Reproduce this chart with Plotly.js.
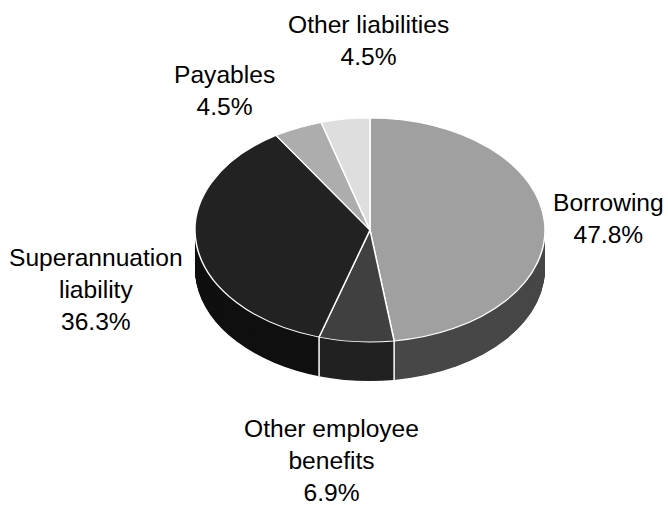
<!DOCTYPE html>
<html>
<head>
<meta charset="utf-8">
<script src="https://cdn.plot.ly/plotly-3.0.1.min.js"></script>
<style>html,body{margin:0;padding:0;background:#fff}#chart{width:668px;height:505px}</style>
</head>
<body>
<div id="chart"></div>
<script>
const labels = ["Borrowing", "Other employee<br>benefits", "Superannuation<br>liability", "Payables", "Other liabilities"];
const values = [47.8, 6.9, 36.3, 4.5, 4.5];
const topColors = ["#a0a0a0", "#404040", "#222222", "#adadad", "#dedede"];
const sideColors = ["#484848", "#222222", "#111111", "#111111", "#111111"];
const labelX = [608, 331, 96, 224, 368];
const labelY = [219, 460, 289, 91, 41];

const W = 668, H = 505, cx = 370, cy = 230, rx = 175, ry = 112, depth = 39;
const squash = ry / rx, preDepth = depth / squash, step = 1;

function pieTrace(offset, colors, lineWidth) {
  const c = H - (cy + offset);
  return {
    type: "pie", values: values, sort: false, direction: "clockwise", rotation: 0,
    domain: {x: [(cx - rx) / W, (cx + rx) / W], y: [(c - rx) / H, (c + rx) / H]},
    marker: {colors: colors, line: {color: "#ffffff", width: lineWidth}},
    textinfo: "none", hoverinfo: "skip", showlegend: false
  };
}

const traces = [];
for (let d = preDepth; d > 0; d -= step) traces.push(pieTrace(d, sideColors, 0));
traces.push(pieTrace(0, topColors, 1.5));

const total = values.reduce((a, b) => a + b, 0);
const shapes = [];
let cum = 0;
values.forEach(v => {
  cum += v;
  const t = cum / total * 2 * Math.PI;
  if (Math.cos(t) < 0) {
    const x = cx + rx * Math.sin(t), y = cy - ry * Math.cos(t);
    shapes.push({type: "line", xref: "paper", yref: "paper", x0: x / W, x1: x / W,
      y0: 1 - y / H, y1: 1 - (y + depth) / H, line: {color: "#ffffff", width: 1.5}});
  }
});

const annotations = labels.map((l, i) => ({
  xref: "paper", yref: "paper", x: labelX[i] / W, y: 1 - labelY[i] / H,
  xanchor: "center", yanchor: "middle", showarrow: false, align: "center",
  text: l + "<br>" + values[i].toFixed(1) + "%",
  font: {family: "Liberation Sans, Arial, sans-serif", size: 24.6, color: "#000000"}
}));

Plotly.newPlot("chart", traces, {
  width: W, height: H, margin: {l: 0, r: 0, t: 0, b: 0},
  paper_bgcolor: "#ffffff", showlegend: false, shapes: shapes, annotations: annotations
}, {displayModeBar: false}).then(() => {
  const g = document.querySelector("#chart .pielayer");
  g.setAttribute("transform", `translate(0,${cy}) scale(1,${squash}) translate(0,${-cy})`);
});
</script>
</body>
</html>
